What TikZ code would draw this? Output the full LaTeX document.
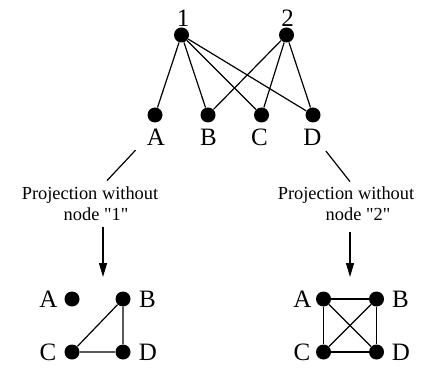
\documentclass[tikz,border=0pt]{standalone}
\usepackage{fontspec}
\setmainfont{Liberation Serif}
\usetikzlibrary{arrows.meta}

\begin{document}
\begin{tikzpicture}[
    x=0.5pt, y=-0.5pt,
    vertex/.style={circle, fill=black, inner sep=0pt, minimum size=7.5pt},
    letter/.style={font=\fontsize{12.5}{14}\selectfont, inner sep=1pt},
    caption/.style={font=\fontsize{9.2}{10.5}\selectfont, align=center, inner sep=1pt},
    edge/.style={line width=0.6pt},
    arrow/.style={line width=0.6pt, -{Triangle[length=7pt, width=4pt]}}
]
\useasboundingbox (0,0) rectangle (421,368);

% Bipartite graph
\node[vertex] (p1) at (181.5,35) {};
\node[vertex] (p2) at (286.5,35) {};
\node[vertex] (a) at (155,115) {};
\node[vertex] (b) at (208,115) {};
\node[vertex] (c) at (261.5,115) {};
\node[vertex] (d) at (313,115) {};

\node[letter] (l1) at (183,18.5) {1};
\node[letter] (l2) at (287.5,18.5) {2};
\node[letter] (la) at (156,137.5) {A};
\node[letter] (lb) at (208.5,137.5) {B};
\node[letter] (lc) at (259.5,137.5) {C};
\node[letter] (ld) at (312.5,137.5) {D};

\foreach \v in {a,b,c,d}
  \draw[edge] (p1) -- (\v);
\foreach \v in {b,c,d}
  \draw[edge] (p2) -- (\v);

% Projections
\node[caption] (capl) at (90,204) {Projection without\\\hspace*{6pt}node \textquotedbl 1\textquotedbl};
\node[caption] (capr) at (346,204) {Projection without\\\hspace*{12pt}node \textquotedbl 2\textquotedbl};

\draw[edge] ([shift={(-9,2)}]la.south west) -- ([shift={(17,-4)}]capl.north);
\draw[edge] ([shift={(2,3)}]ld.south east) -- ([shift={(4,-3)}]capr.north);

\coordinate (tgtl) at (103,277);
\coordinate (tgtr) at (350,277);
\draw[arrow] ([shift={(13,4)}]capl.south) -- (tgtl);
\draw[arrow] ([shift={(4,9)}]capr.south) -- (tgtr);

% Projection without node 1
\node[vertex] (la1) at (72,299) {};
\node[vertex] (lb1) at (123,299) {};
\node[vertex] (lc1) at (72,352) {};
\node[vertex] (ld1) at (123,352) {};
\node[letter] at (48.5,299) {A};
\node[letter] at (147.5,299) {B};
\node[letter] at (48,352) {C};
\node[letter] at (148,352) {D};
\draw[edge] (lb1) -- (lc1) -- (ld1) -- (lb1);

% Projection without node 2
\node[vertex] (ra2) at (323.5,299) {};
\node[vertex] (rb2) at (376.5,299) {};
\node[vertex] (rc2) at (323.5,352) {};
\node[vertex] (rd2) at (376.5,352) {};
\node[letter] at (302.5,299) {A};
\node[letter] at (400.5,299) {B};
\node[letter] at (302,352) {C};
\node[letter] at (401,352) {D};
\draw[edge] (ra2) -- (rb2) -- (rd2) -- (rc2) -- (ra2);
\draw[edge] (ra2) -- (rd2);
\draw[edge] (rb2) -- (rc2);

\end{tikzpicture}
\end{document}
